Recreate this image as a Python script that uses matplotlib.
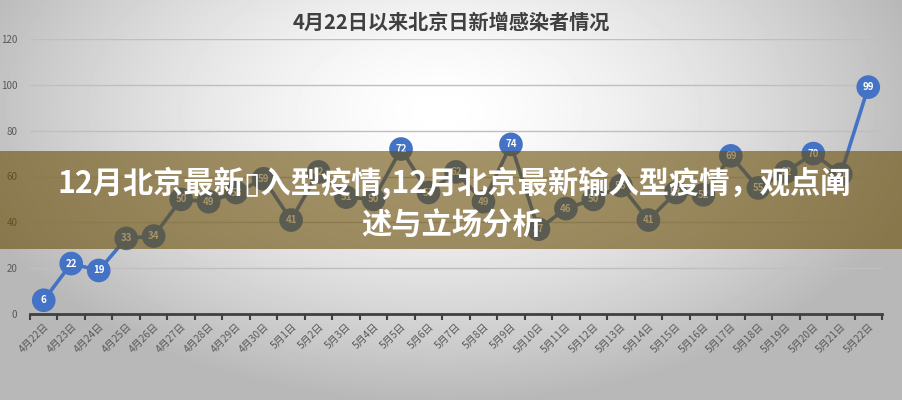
import matplotlib
matplotlib.use("Agg")
import matplotlib.pyplot as plt
import numpy as np
from matplotlib.patches import Rectangle

plt.rcParams['font.family'] = ['Noto Sans CJK SC', 'DejaVu Sans']

# daily new infections since 4/22
dates = (
    [f"4月{d}日" for d in range(22, 31)]
    + [f"5月{d}日" for d in range(1, 23)]
)
cases = [6, 22, 19, 33, 34, 50, 49, 53, 59, 41, 62, 51, 50, 72, 53, 62,
         49, 74, 37, 46, 50, 56, 41, 53, 52, 69, 55, 62, 70, 61, 99]
y_ticks = [0, 20, 40, 60, 80, 100, 120]

title = "4月22日以来北京日新增感染者情况"
banner_line1 = "12月北京最新▯入型疫情,12月北京最新输入型疫情，观点阐"
banner_line2 = "述与立场分析"

W, H = 903, 400
fig = plt.figure(figsize=(W / 100, H / 100), dpi=100)

# soft radial gray background
bg = fig.add_axes([0, 0, 1, 1], zorder=-10)
yy, xx = np.mgrid[0:H, 0:W]
r = np.sqrt(((xx - 440) / 540.0) ** 2 + ((yy - 110) / 320.0) ** 2)
shade = np.clip(1.0 - 0.32 * r ** 1.5, 0.72, 1.0)
bg.imshow(shade, cmap="gray", vmin=0, vmax=1, aspect="auto",
          extent=(0, W, H, 0))
bg.set_axis_off()

ax = fig.add_axes([30 / W, 86 / H, 852 / W, 275 / H])
ax.set_facecolor("none")
x = np.arange(len(dates))
blue = "#4472c4"
ax.plot(x, cases, color=blue, lw=2.6, zorder=3)
ax.scatter(x, cases, s=290, color=blue, zorder=4, edgecolors="none")
for xi, v in zip(x, cases):
    ax.text(xi, v, str(v), ha="center", va="center", color="white",
            fontsize=7, fontweight="bold", zorder=5)

ax.set_xlim(-0.5, len(dates) - 0.5)
ax.set_ylim(0, 120)
ax.set_yticks(y_ticks)
ax.set_yticklabels([str(t) for t in y_ticks], fontsize=7, color="#595959")
ax.tick_params(axis="y", length=0, pad=9)
ax.set_xticks(x)
ax.set_xticklabels(dates, rotation=45, ha="right", va="top",
                   rotation_mode="anchor", fontsize=7.3, color="#595959")
ax.tick_params(axis="x", length=0, pad=5)
ax.set_xticks(np.arange(len(dates) + 1) - 0.5, minor=True)
ax.tick_params(axis="x", which="minor", length=4, width=1.5, color="#404040")
ax.grid(True, axis="y", color="#bfbfbf", lw=1)
for s in ["left", "right", "top"]:
    ax.spines[s].set_visible(False)
ax.spines["bottom"].set_color("#404040")
ax.spines["bottom"].set_linewidth(2)

fig.text(451 / W, 1 - 22 / H, title, ha="center", va="center",
         fontsize=14.5, fontweight="bold", color="#404040")

# overlay banner with headline
banner = Rectangle((0, 1 - 249 / H), 1, 98 / H, transform=fig.transFigure,
                   facecolor="#6a4c05", alpha=0.6, edgecolor="none", zorder=20)
fig.add_artist(banner)
fig.text(454 / W, 1 - 184 / H, banner_line1, ha="center", va="center",
         fontsize=21.8, fontweight="heavy", color="white", zorder=21)
fig.text(452 / W, 1 - 226 / H, banner_line2, ha="center", va="center",
         fontsize=21.8, fontweight="heavy", color="white", zorder=21)

fig.savefig("out.png", dpi=100)
